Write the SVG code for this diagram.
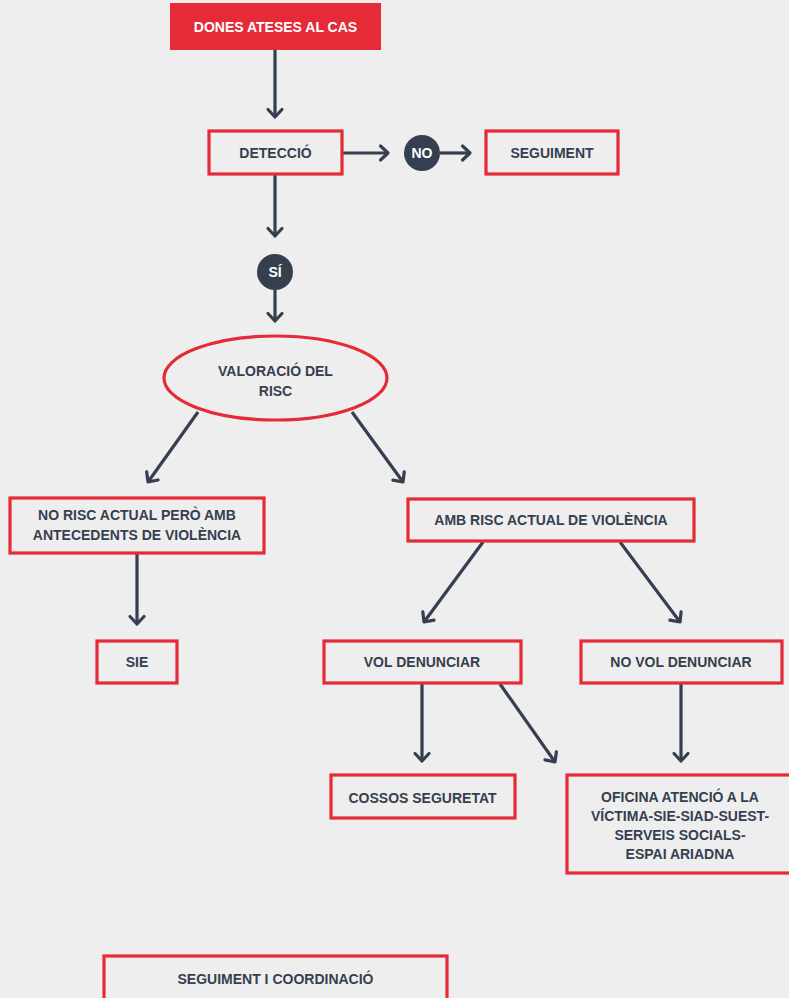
<svg xmlns="http://www.w3.org/2000/svg" width="789" height="998" viewBox="0 0 789 998">
<defs>
<marker id="ah" markerUnits="userSpaceOnUse" markerWidth="20" markerHeight="20" viewBox="-12 -10 14 20" refX="0" refY="0" orient="auto">
<path d="M-7.5,-7 L0,0 L-7.5,7" fill="none" stroke="#353f4f" stroke-width="3.2" stroke-linecap="round" stroke-linejoin="round"/>
</marker>
<style>
.bx{fill:#eeeeee;stroke:#e52a38;stroke-width:3.2}
.t{font-family:"Liberation Sans",Arial,sans-serif;font-weight:bold;font-size:14px;fill:#353f4f;text-anchor:middle}
.w{fill:#ffffff}
.c{fill:#353f4f}
.ln{fill:none;stroke:#353f4f;stroke-width:3.2;marker-end:url(#ah)}
.pl{fill:none;stroke:#353f4f;stroke-width:3.2}
</style>
</defs>
<rect width="789" height="998" fill="#eeeeee"/>
<g id="connectors">
<line class="ln" x1="275" y1="50" x2="275" y2="117"/>
<line class="ln" x1="342" y1="153" x2="388" y2="153"/>
<line class="ln" x1="440" y1="153" x2="470" y2="153"/>
<line class="ln" x1="275" y1="174" x2="275" y2="236"/>
<line class="ln" x1="275" y1="290" x2="275" y2="321"/>
<line class="ln" x1="198" y1="412" x2="148" y2="482"/>
<line class="ln" x1="352" y1="412" x2="403" y2="482"/>
<line class="ln" x1="137" y1="554" x2="137" y2="624"/>
<line class="ln" x1="483" y1="542" x2="424" y2="622"/>
<line class="ln" x1="620" y1="542" x2="680" y2="622"/>
<line class="ln" x1="422" y1="684" x2="422" y2="761"/>
<line class="ln" x1="500" y1="684" x2="555" y2="762"/>
<line class="ln" x1="681" y1="684" x2="681" y2="761"/>
</g>
<g id="n-dones"><rect x="170" y="3" width="211" height="47" fill="#e52a38"/><text class="t w" x="275.5" y="32">DONES ATESES AL CAS</text></g>
<g id="n-deteccio"><rect class="bx" x="209" y="131" width="133" height="43"/><text class="t" x="275.5" y="158">DETECCIÓ</text></g>
<g id="n-no"><circle class="c" cx="422" cy="153" r="18"/><text class="t w" x="422" y="158">NO</text></g>
<g id="n-seguiment"><rect class="bx" x="486" y="131" width="132" height="43"/><text class="t" x="552" y="158">SEGUIMENT</text></g>
<g id="n-si"><circle class="c" cx="275" cy="272" r="18"/><text class="t w" x="275" y="277">SÍ</text></g>
<g id="n-valoracio"><ellipse cx="275.5" cy="378" rx="111.5" ry="42" fill="#eeeeee" stroke="#e52a38" stroke-width="3.2"/><text class="t" x="275.5" y="376">VALORACIÓ DEL</text><text class="t" x="275.5" y="396">RISC</text></g>
<g id="n-norisc"><rect class="bx" x="10" y="498" width="254" height="55"/><text class="t" x="137" y="520">NO RISC ACTUAL PERÒ AMB</text><text class="t" x="137" y="540">ANTECEDENTS DE VIOLÈNCIA</text></g>
<g id="n-ambrisc"><rect class="bx" x="408" y="499" width="286" height="42"/><text class="t" x="551" y="525">AMB RISC ACTUAL DE VIOLÈNCIA</text></g>
<g id="n-sie"><rect class="bx" x="97" y="641" width="80" height="42"/><text class="t" x="137" y="667">SIE</text></g>
<g id="n-vol"><rect class="bx" x="324" y="641" width="197" height="42"/><text class="t" x="422" y="667">VOL DENUNCIAR</text></g>
<g id="n-novol"><rect class="bx" x="581" y="641" width="201" height="42"/><text class="t" x="681" y="667">NO VOL DENUNCIAR</text></g>
<g id="n-cossos"><rect class="bx" x="331" y="775" width="184" height="43"/><text class="t" x="422.5" y="803">COSSOS SEGURETAT</text></g>
<g id="n-oficina"><rect class="bx" x="567" y="775" width="230" height="98"/><text class="t" x="680" y="802">OFICINA ATENCIÓ A LA</text><text class="t" x="680" y="821">VÍCTIMA-SIE-SIAD-SUEST-</text><text class="t" x="680" y="840">SERVEIS SOCIALS-</text><text class="t" x="680" y="859">ESPAI ARIADNA</text></g>
<g id="n-coord"><rect class="bx" x="104" y="956" width="343" height="50"/><text class="t" x="275.5" y="984">SEGUIMENT I COORDINACIÓ</text></g>
</svg>
